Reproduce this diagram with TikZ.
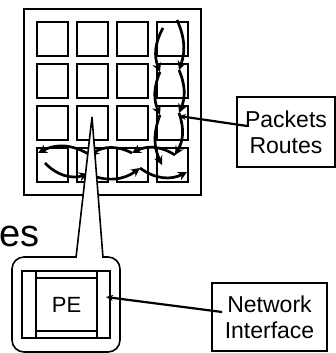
\documentclass[tikz,border=0pt]{standalone}
\usepackage{fontspec}
\setmainfont{Liberation Sans}
\usetikzlibrary{arrows.meta,positioning,fit}

\begin{document}
\begin{tikzpicture}[x=1pt,y=-1pt,
    tile/.style={draw, line width=2pt, minimum width=31pt, minimum height=34pt, inner sep=0pt},
    tag/.style={draw, line width=1.8pt, align=center, inner sep=0pt, font=\fontsize{23}{26}\selectfont},
    thin box/.style={draw, line width=1.6pt, inner sep=0pt, outer sep=0pt},
    hop/.style={line width=2.7pt, -{Stealth[length=9pt,width=9pt]}},
    pointer/.style={line width=2.2pt, -{Stealth[length=7pt,width=6pt]}}
]
    \useasboundingbox (0,0) rectangle (336,353);

    % Tiles of the mesh
    \node[tile] (t11) at (52.5,39) {};
    \node[tile, right=7pt of t11] (t12) {};
    \node[tile, right=7pt of t12] (t13) {};
    \node[tile, right=7pt of t13] (t14) {};
    \node[tile, below=6pt of t11] (t21) {};
    \node[tile, right=7pt of t21] (t22) {};
    \node[tile, right=7pt of t22] (t23) {};
    \node[tile, right=7pt of t23] (t24) {};
    \node[tile, below=6pt of t21] (t31) {};
    \node[tile, right=7pt of t31] (t32) {};
    \node[tile, right=7pt of t32] (t33) {};
    \node[tile, right=7pt of t33] (t34) {};
    \node[tile, below=6pt of t31] (t41) {};
    \node[tile, right=7pt of t41] (t42) {};
    \node[tile, right=7pt of t42] (t43) {};
    \node[tile, right=7pt of t43] (t44) {};
    \node[draw, line width=2pt, fit=(t11)(t44), inner sep=12pt] (mesh) {};

    % Route points
    \coordinate (d0) at (163,28);
    \coordinate (d1) at (160,72);
    \coordinate (d2) at (160,115);
    \coordinate (d3) at (162,165);
    \coordinate (r0) at (177,20);
    \coordinate (r1) at (179,70);
    \coordinate (r2) at (179,113);
    \coordinate (r3) at (175,155);
    \coordinate (w1) at (132,153);
    \coordinate (w2) at (90,155);
    \coordinate (w3) at (38,153);
    \coordinate (e0) at (45,163);
    \coordinate (e1) at (88,174);
    \coordinate (e2) at (140,168);
    \coordinate (e3) at (187,172);

    % Packet routes
    \draw[hop] (d0) to[bend right=25] (d1);
    \draw[hop] (d1) to[bend right=23] (d2);
    \draw[hop] (d2) to[bend right=23] (d3);
    \draw[hop] (r0) to[bend left=22] (r1);
    \draw[hop] (r1) to[bend left=23] (r2);
    \draw[hop] (r2) to[bend left=25] (r3);
    \draw[hop] (r3) to[bend right=30] (w1);
    \draw[hop] (w1) to[bend right=30] (w2);
    \draw[hop] (w2) to[bend right=30] (w3);
    \draw[hop] (e0) to[bend right=32] (e1);
    \draw[hop] (e1) to[bend right=30] (e2);
    \draw[hop] (e2) to[bend right=32] (e3);

    % Zoomed tile
    \node[thin box, rounded corners=12pt, fill=white, minimum width=108pt, minimum height=95pt] (zoom) at (66,304.5) {};
    \fill[white] (76,259) -- (92,117) -- (103,259) -- cycle;
    \draw[line width=1.6pt] (76,257.8) -- (92,117) -- (103,257.8);
    \node[thin box, minimum width=88pt, minimum height=67pt] (ni) at (66,304.5) {};
    \node[thin box, minimum width=61pt, minimum height=53pt, font=\fontsize{22}{24}\selectfont] (PE) at (66.5,304.5) {PE};
    \draw[line width=1.6pt] (PE.north west |- ni.north) -- (PE.south west |- ni.south);
    \draw[line width=1.6pt] (PE.north east |- ni.north) -- (PE.south east |- ni.south);

    \node[anchor=base west, inner sep=0pt, font=\fontsize{38}{40}\selectfont] (es) at (-1,246) {es};

    % Labels
    \node[tag, minimum width=98pt, minimum height=70pt] (routes) at (286,132) {Packets\\Routes};
    \node[tag, minimum width=115pt, minimum height=68pt] (netif) at (269.5,317) {Network\\Interface};
    \coordinate (routeHit) at (179,116);
    \coordinate (niHit) at (106,297);
    \draw[pointer] ([xshift=11pt,yshift=6pt]routes.west) -- (routeHit);
    \draw[pointer] ([xshift=11pt,yshift=5pt]netif.west) -- (niHit);
\end{tikzpicture}
\end{document}
